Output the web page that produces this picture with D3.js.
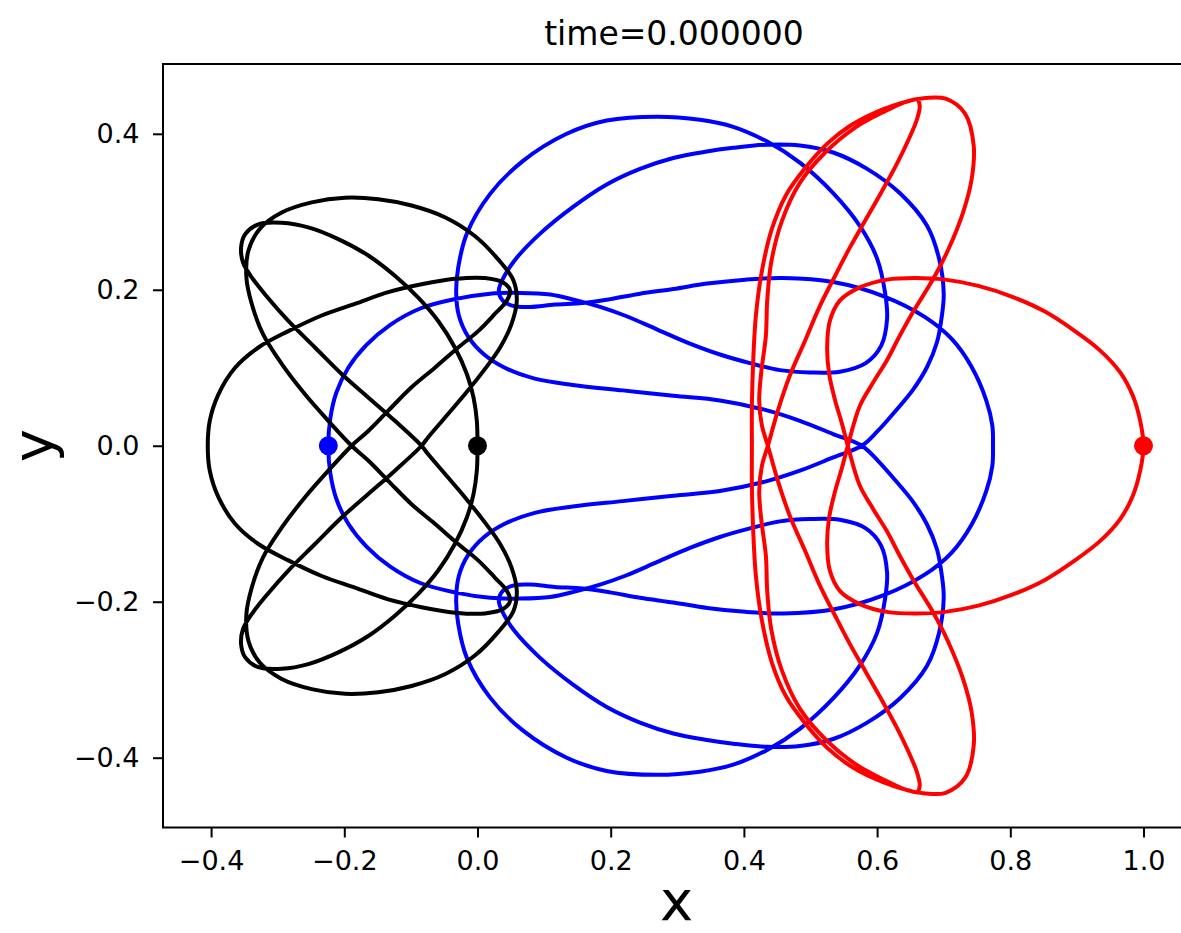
<!DOCTYPE html>
<html lang='en'>

<head>
    <meta charset='utf-8'>
    <title>time=0.000000</title>
    <style>
        body {
            margin: 0;
            background-color: white;
        }

        svg {
            display: block;
            font-family: 'DejaVu Sans', sans-serif;
        }
    </style>
    <script src='https://d3js.org/d3.v7.min.js' charset='utf-8'></script>
</head>

<body>
    <script type="text/javascript">
        const WIDTH = 1181;
        const HEIGHT = 933;

        // orbits, in the order each body runs through them
        const blueOrbit = [
            [-0.224, 0.000], [-0.221, 0.035], [-0.212, 0.068], [-0.194, 0.100], [-0.167, 0.129], [-0.131, 0.155],
            [-0.086, 0.176], [-0.034, 0.188], [0.019, 0.195], [0.064, 0.196], [0.109, 0.194], [0.146, 0.187],
            [0.184, 0.178], [0.221, 0.167], [0.270, 0.149], [0.319, 0.131], [0.364, 0.117], [0.409, 0.106],
            [0.454, 0.097], [0.499, 0.094], [0.544, 0.095], [0.583, 0.106], [0.606, 0.128], [0.615, 0.163],
            [0.612, 0.196], [0.600, 0.240], [0.574, 0.282], [0.534, 0.324], [0.484, 0.363], [0.435, 0.390],
            [0.384, 0.409], [0.334, 0.418], [0.270, 0.422], [0.194, 0.417], [0.134, 0.400], [0.068, 0.365],
            [0.019, 0.323], [-0.016, 0.272], [-0.029, 0.228], [-0.032, 0.196], [-0.028, 0.167], [-0.014, 0.140],
            [0.010, 0.117], [0.041, 0.100], [0.086, 0.086], [0.143, 0.078], [0.218, 0.071], [0.294, 0.064],
            [0.364, 0.058], [0.432, 0.046], [0.484, 0.032], [0.534, 0.015], [0.577, 0.000],
            [0.601, -0.019], [0.627, -0.044], [0.654, -0.072], [0.675, -0.101], [0.690, -0.133], [0.697, -0.165],
            [0.700, -0.195], [0.693, -0.240], [0.675, -0.282], [0.634, -0.324], [0.585, -0.355], [0.534, -0.376],
            [0.484, -0.385], [0.435, -0.386], [0.384, -0.382], [0.342, -0.377], [0.294, -0.369], [0.244, -0.355],
            [0.194, -0.335], [0.143, -0.306], [0.094, -0.272], [0.056, -0.238], [0.040, -0.217], [0.032, -0.199],
            [0.038, -0.186], [0.055, -0.179], [0.079, -0.178], [0.116, -0.181], [0.158, -0.183], [0.199, -0.188],
            [0.244, -0.195], [0.294, -0.201], [0.345, -0.208], [0.402, -0.213], [0.459, -0.215], [0.534, -0.210],
            [0.609, -0.192], [0.672, -0.165], [0.712, -0.137], [0.742, -0.101], [0.764, -0.058], [0.773, -0.026],
            [0.774, 0.000],
            [0.773, 0.026], [0.764, 0.058], [0.742, 0.101], [0.712, 0.137], [0.672, 0.165], [0.609, 0.192],
            [0.534, 0.210], [0.459, 0.215], [0.402, 0.213], [0.345, 0.208], [0.294, 0.201], [0.244, 0.195],
            [0.199, 0.188], [0.158, 0.183], [0.116, 0.181], [0.079, 0.178], [0.055, 0.179], [0.038, 0.186],
            [0.032, 0.199], [0.040, 0.217], [0.056, 0.238], [0.094, 0.272], [0.143, 0.306], [0.194, 0.335],
            [0.244, 0.355], [0.294, 0.369], [0.342, 0.377], [0.384, 0.382], [0.435, 0.386], [0.484, 0.385],
            [0.534, 0.376], [0.585, 0.355], [0.634, 0.324], [0.675, 0.282], [0.693, 0.240], [0.700, 0.195],
            [0.697, 0.165], [0.690, 0.133], [0.675, 0.101], [0.654, 0.072], [0.627, 0.044], [0.601, 0.019],
            [0.577, 0.000],
            [0.534, -0.015], [0.484, -0.032], [0.432, -0.046], [0.364, -0.058], [0.294, -0.064], [0.218, -0.071],
            [0.143, -0.078], [0.086, -0.086], [0.041, -0.100], [0.010, -0.117], [-0.014, -0.140], [-0.028, -0.167],
            [-0.032, -0.196], [-0.029, -0.228], [-0.016, -0.272], [0.019, -0.323], [0.068, -0.365], [0.134, -0.400],
            [0.194, -0.417], [0.270, -0.422], [0.334, -0.418], [0.384, -0.409], [0.435, -0.390], [0.484, -0.363],
            [0.534, -0.324], [0.574, -0.282], [0.600, -0.240], [0.612, -0.196], [0.615, -0.163], [0.606, -0.128],
            [0.583, -0.106], [0.544, -0.095], [0.499, -0.094], [0.454, -0.097], [0.409, -0.106], [0.364, -0.117],
            [0.319, -0.131], [0.270, -0.149], [0.221, -0.167], [0.184, -0.178], [0.146, -0.187], [0.109, -0.194],
            [0.064, -0.196], [0.019, -0.195], [-0.034, -0.188], [-0.086, -0.176], [-0.131, -0.155], [-0.167, -0.129],
            [-0.194, -0.100], [-0.212, -0.068], [-0.221, -0.035]
        ];

        const blackOrbit = [
            [0.000, 0.000], [-0.001, 0.032], [-0.006, 0.062], [-0.016, 0.092], [-0.034, 0.126], [-0.059, 0.160],
            [-0.089, 0.190], [-0.124, 0.218], [-0.164, 0.244], [-0.209, 0.265], [-0.254, 0.280], [-0.294, 0.286],
            [-0.329, 0.284], [-0.349, 0.271], [-0.355, 0.254], [-0.352, 0.235], [-0.339, 0.216], [-0.317, 0.192],
            [-0.284, 0.160], [-0.244, 0.126], [-0.204, 0.092], [-0.164, 0.062], [-0.124, 0.032], [-0.084, 0.000],
            [-0.074, -0.011], [-0.049, -0.036], [-0.019, -0.066], [0.009, -0.096], [0.034, -0.126], [0.051, -0.156],
            [0.059, -0.186], [0.054, -0.212], [0.031, -0.239], [-0.004, -0.269], [-0.049, -0.293], [-0.099, -0.308],
            [-0.149, -0.316], [-0.199, -0.318], [-0.249, -0.312], [-0.294, -0.299], [-0.327, -0.278], [-0.344, -0.250],
            [-0.347, -0.216], [-0.339, -0.182], [-0.322, -0.143], [-0.294, -0.105], [-0.259, -0.066], [-0.224, -0.032],
            [-0.189, 0.000],
            [-0.164, 0.019], [-0.134, 0.045], [-0.099, 0.075], [-0.064, 0.100], [-0.029, 0.126], [0.001, 0.147],
            [0.026, 0.169], [0.044, 0.186], [0.049, 0.199], [0.039, 0.209], [0.011, 0.215], [-0.034, 0.214],
            [-0.084, 0.207], [-0.134, 0.197], [-0.184, 0.182], [-0.234, 0.167], [-0.284, 0.147], [-0.329, 0.126],
            [-0.364, 0.100], [-0.389, 0.066], [-0.402, 0.032], [-0.405, 0.000],
            [-0.402, -0.032], [-0.389, -0.066], [-0.364, -0.100], [-0.329, -0.126], [-0.284, -0.147], [-0.234, -0.167],
            [-0.184, -0.182], [-0.134, -0.197], [-0.084, -0.207], [-0.034, -0.214], [0.011, -0.215], [0.039, -0.209],
            [0.049, -0.199], [0.044, -0.186], [0.026, -0.169], [0.001, -0.147], [-0.029, -0.126], [-0.064, -0.100],
            [-0.099, -0.075], [-0.134, -0.045], [-0.164, -0.019], [-0.189, 0.000],
            [-0.224, 0.032], [-0.259, 0.066], [-0.294, 0.105], [-0.322, 0.143], [-0.339, 0.182], [-0.347, 0.216],
            [-0.344, 0.250], [-0.327, 0.278], [-0.294, 0.299], [-0.249, 0.312], [-0.199, 0.318], [-0.149, 0.316],
            [-0.099, 0.308], [-0.049, 0.293], [-0.004, 0.269], [0.031, 0.239], [0.054, 0.212], [0.059, 0.186],
            [0.051, 0.156], [0.034, 0.126], [0.009, 0.096], [-0.019, 0.066], [-0.049, 0.036], [-0.074, 0.011],
            [-0.084, 0.000],
            [-0.124, -0.032], [-0.164, -0.062], [-0.204, -0.092], [-0.244, -0.126], [-0.284, -0.160], [-0.317, -0.192],
            [-0.339, -0.216], [-0.352, -0.235], [-0.355, -0.254], [-0.349, -0.271], [-0.329, -0.284], [-0.294, -0.286],
            [-0.254, -0.280], [-0.209, -0.265], [-0.164, -0.244], [-0.124, -0.218], [-0.089, -0.190], [-0.059, -0.160],
            [-0.034, -0.126], [-0.016, -0.092], [-0.006, -0.062], [-0.001, -0.032]
        ];

        const redOrbit = [
            [1.000, 0.000], [0.995, 0.032], [0.984, 0.064], [0.965, 0.094], [0.935, 0.122], [0.897, 0.147],
            [0.852, 0.172], [0.803, 0.191], [0.752, 0.205], [0.702, 0.213], [0.657, 0.215], [0.615, 0.213],
            [0.574, 0.203], [0.544, 0.186], [0.529, 0.160], [0.525, 0.126], [0.528, 0.092], [0.537, 0.058],
            [0.547, 0.029], [0.556, 0.000],
            [0.574, -0.051], [0.594, -0.081], [0.615, -0.110], [0.634, -0.141], [0.655, -0.173], [0.685, -0.215],
            [0.706, -0.250], [0.729, -0.299], [0.742, -0.342], [0.745, -0.385], [0.732, -0.426], [0.703, -0.445],
            [0.673, -0.446], [0.646, -0.442], [0.612, -0.429], [0.567, -0.408], [0.522, -0.376], [0.484, -0.337],
            [0.457, -0.288], [0.441, -0.235], [0.435, -0.186], [0.433, -0.141], [0.426, -0.094], [0.423, -0.058],
            [0.427, -0.026], [0.436, 0.000],
            [0.451, 0.045], [0.469, 0.090], [0.492, 0.135], [0.514, 0.179], [0.537, 0.218], [0.559, 0.254],
            [0.583, 0.290], [0.607, 0.326], [0.630, 0.362], [0.648, 0.394], [0.660, 0.419], [0.664, 0.436],
            [0.660, 0.444], [0.648, 0.442], [0.624, 0.436], [0.594, 0.426], [0.559, 0.410], [0.526, 0.388],
            [0.492, 0.356], [0.463, 0.321], [0.442, 0.278], [0.427, 0.224], [0.418, 0.167], [0.414, 0.109],
            [0.412, 0.051], [0.412, 0.000],
            [0.412, -0.051], [0.414, -0.109], [0.418, -0.167], [0.427, -0.224], [0.442, -0.278], [0.463, -0.321],
            [0.492, -0.356], [0.526, -0.388], [0.559, -0.410], [0.594, -0.426], [0.624, -0.436], [0.648, -0.442],
            [0.660, -0.444], [0.664, -0.436], [0.660, -0.419], [0.648, -0.394], [0.630, -0.362], [0.607, -0.326],
            [0.583, -0.290], [0.559, -0.254], [0.537, -0.218], [0.514, -0.179], [0.492, -0.135], [0.469, -0.090],
            [0.451, -0.045], [0.436, 0.000],
            [0.427, 0.026], [0.423, 0.058], [0.426, 0.094], [0.433, 0.141], [0.435, 0.186], [0.441, 0.235],
            [0.457, 0.288], [0.484, 0.337], [0.522, 0.376], [0.567, 0.408], [0.612, 0.429], [0.646, 0.442],
            [0.673, 0.446], [0.703, 0.445], [0.732, 0.426], [0.745, 0.385], [0.742, 0.342], [0.729, 0.299],
            [0.706, 0.250], [0.685, 0.215], [0.655, 0.173], [0.634, 0.141], [0.615, 0.110], [0.594, 0.081],
            [0.574, 0.051], [0.556, 0.000],
            [0.547, -0.029], [0.537, -0.058], [0.528, -0.092], [0.525, -0.126], [0.529, -0.160], [0.544, -0.186],
            [0.574, -0.203], [0.615, -0.213], [0.657, -0.215], [0.702, -0.213], [0.752, -0.205], [0.803, -0.191],
            [0.852, -0.172], [0.897, -0.147], [0.935, -0.122], [0.965, -0.094], [0.984, -0.064], [0.995, -0.032]
        ];

        const orbitColors = ['blue', 'black', 'red'];
        const xTicks = [-0.4, -0.2, 0.0, 0.2, 0.4, 0.6, 0.8, 1.0];
        const yTicks = [-0.4, -0.2, 0.0, 0.2, 0.4];
        const xDomain = [-0.4722, 1.0698];
        const yDomain = [-0.4895, 0.4895];
        const titleText = 'time=0.000000';

        const orbits = [blueOrbit, blackOrbit, redOrbit];

        const margin = { left: 163, top: 64, right: 1190, bottom: 827.5 };

        const x = d3.scaleLinear().domain(xDomain).range([margin.left, margin.right]);
        const y = d3.scaleLinear().domain(yDomain).range([margin.bottom, margin.top]);

        const svg = d3.select('body')
            .append('svg')
            .attr('width', WIDTH)
            .attr('height', HEIGHT);

        svg.append('rect')
            .attr('width', WIDTH)
            .attr('height', HEIGHT)
            .attr('fill', 'white');

        function tickLabel(d) {
            return d3.format('.1f')(d).replace('-', '\u2212');
        }

        const xAxis = svg.append('g')
            .attr('transform', 'translate(0,' + margin.bottom + ')')
            .call(d3.axisBottom(x).tickValues(xTicks).tickFormat(tickLabel).tickSize(10).tickPadding(13));

        const yAxis = svg.append('g')
            .attr('transform', 'translate(' + margin.left + ',0)')
            .call(d3.axisLeft(y).tickValues(yTicks).tickFormat(tickLabel).tickSize(10).tickPadding(13.5));

        [xAxis, yAxis].forEach(function (axis) {
            axis.select('.domain').remove();
            axis.selectAll('line').attr('stroke', 'black').attr('stroke-width', 2);
            axis.selectAll('text')
                .attr('fill', 'black')
                .attr('font-size', '27px')
                .attr('font-family', "'DejaVu Sans', sans-serif");
        });

        const line = d3.line()
            .x(function (d) { return x(d[0]); })
            .y(function (d) { return y(d[1]); })
            .curve(d3.curveCatmullRomClosed.alpha(0.5));

        svg.append('g')
            .selectAll('path')
            .data(orbits)
            .enter()
            .append('path')
            .attr('d', line)
            .attr('fill', 'none')
            .attr('stroke', function (d, i) { return orbitColors[i]; })
            .attr('stroke-width', 4)
            .attr('stroke-linejoin', 'round');

        // each body sits at the first point of its orbit at time 0
        svg.append('g')
            .selectAll('circle')
            .data(orbits)
            .enter()
            .append('circle')
            .attr('cx', function (d) { return x(d[0][0]); })
            .attr('cy', function (d) { return y(d[0][1]); })
            .attr('r', 9.5)
            .attr('fill', function (d, i) { return orbitColors[i]; });

        // frame
        svg.append('rect')
            .attr('x', margin.left)
            .attr('y', margin.top)
            .attr('width', margin.right - margin.left)
            .attr('height', margin.bottom - margin.top)
            .attr('fill', 'none')
            .attr('stroke', 'black')
            .attr('stroke-width', 2);

        svg.append('text')
            .text(titleText)
            .attr('x', 674)
            .attr('y', 45)
            .attr('text-anchor', 'middle')
            .attr('font-size', '33px')
            .attr('fill', 'black');

        svg.append('text')
            .text('x')
            .attr('x', (margin.left + margin.right) / 2)
            .attr('y', 919.5)
            .attr('text-anchor', 'middle')
            .attr('font-size', '56px')
            .attr('fill', 'black');

        svg.append('text')
            .text('y')
            .attr('transform', 'translate(52,' + y(0) + ') rotate(-90)')
            .attr('text-anchor', 'middle')
            .attr('font-size', '56px')
            .attr('fill', 'black');
    </script>
</body>

</html>
